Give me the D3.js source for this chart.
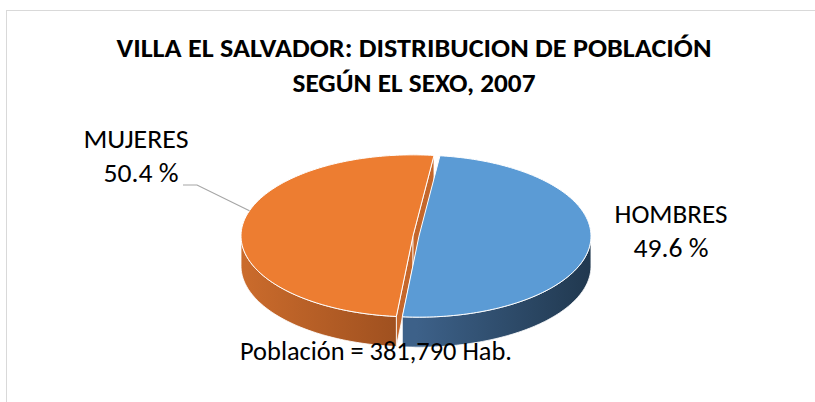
<!DOCTYPE html>
<html><head>
<meta charset="utf-8">
<title>Villa El Salvador - población por sexo</title>
<script src="https://cdnjs.cloudflare.com/ajax/libs/d3/7.8.5/d3.min.js"></script>
<style>
  body { margin: 0; background: #fff; }
  svg { display: block; font-family: Carlito, Calibri, Lato, sans-serif; }
</style>
</head>
<body>
<svg id="chart" width="815" height="402"></svg>

<script>

// data
let categories = ["HOMBRES", "MUJERES"];
let percents = [49.6, 50.4];
let titleLines = ["VILLA EL SALVADOR: DISTRIBUCION DE POBLACIÓN", "SEGÚN EL SEXO, 2007"];
let footnote = "Población = 381,790 Hab.";

let topColors = ["#5B9BD5", "#ED7D31"];

let svg = d3.select("#chart");

// frame (only top and left edges show in the crop)
svg.append("rect")
  .attr("x", 6.5).attr("y", 10.5)
  .attr("width", 830).attr("height", 420)
  .style("fill", "none")
  .style("stroke", "#D9D9D9");

// title, widths fitted to the picture
let titleWidths = [595, 243];
svg.selectAll(".title")
  .data(titleLines)
  .enter().append("text")
  .attr("class", "title")
  .attr("x", 414)
  .attr("y", (d, i) => 57 + i * 35)
  .attr("text-anchor", "middle")
  .attr("textLength", (d, i) => titleWidths[i])
  .attr("lengthAdjust", "spacingAndGlyphs")
  .style("font-weight", "bold")
  .style("font-size", "27px")
  .style("fill", "#000")
  .text(d => d);

// 3d pie geometry
let cx = 416, cy = 236, rx = 172, ry = 81, depth = 30, explode = 3;
let startDeg = 7;

let pie = d3.pie().sort(null)
  .startAngle(startDeg * Math.PI / 180)
  .endAngle(startDeg * Math.PI / 180 + 2 * Math.PI);
let arcs = pie(percents);

// offset of each slice along its middle angle
arcs.forEach(a => {
  let m = (a.startAngle + a.endAngle) / 2;
  a.dx = explode * Math.sin(m);
  a.dy = explode * Math.cos(m) * -1 * ry / rx;
});

function pt(a, ang, dz) {
  return [cx + a.dx + rx * Math.sin(ang), cy + a.dy - ry * Math.cos(ang) + (dz || 0)];
}

function rim(a, a0, a1, dz) {
  let n = Math.max(2, Math.ceil(Math.abs(a1 - a0) / 0.02));
  let s = d3.scaleLinear().domain([0, n]).range([a0, a1]);
  return d3.range(n + 1).map(i => pt(a, s(i), dz));
}

let line = d3.line();

let defs = svg.append("defs");
function grad(id, x1, x2, c1, c2) {
  let g = defs.append("linearGradient").attr("id", id)
    .attr("gradientUnits", "userSpaceOnUse")
    .attr("x1", x1).attr("x2", x2).attr("y1", 0).attr("y2", 0);
  g.append("stop").attr("offset", 0).attr("stop-color", c1);
  g.append("stop").attr("offset", 1).attr("stop-color", c2);
}
grad("sideBlue", cx, cx + rx, "#3D6189", "#213950");
grad("sideOrange", cx - rx, cx, "#CA6B2C", "#9A4D1E");
let sideFill = ["url(#sideBlue)", "url(#sideOrange)"];

let pieG = svg.append("g");

// cut faces of the orange slice (the ones turned toward the viewer)
let mu = arcs[1];
[mu.startAngle, mu.endAngle].forEach(ang => {
  let c = [cx + mu.dx, cy + mu.dy];
  let p = pt(mu, ang);
  let poly = [c, p, [p[0], p[1] + depth], [c[0], c[1] + depth]];
  pieG.append("path")
    .attr("d", line(poly) + "Z")
    .style("fill", "#C5672B")
    .style("stroke", "#fff")
    .style("stroke-width", 0.8);
});

// outer walls: only the front half (angles between 90 and 270 deg) is seen
arcs.slice().reverse().forEach(a => {
  let i = arcs.indexOf(a);
  let lo = Math.PI / 2, hi = 3 * Math.PI / 2;
  let a0 = Math.max(a.startAngle, lo), a1 = Math.min(a.endAngle, hi);
  if (a1 <= a0) return;
  let pts = rim(a, a0, a1).concat(rim(a, a1, a0, depth));
  pieG.append("path")
    .attr("d", line(pts) + "Z")
    .style("fill", sideFill[i])
    .style("stroke", "#fff")
    .style("stroke-width", 0.8);
});

// top faces
arcs.forEach((a, i) => {
  let pts = [[cx + a.dx, cy + a.dy]].concat(rim(a, a.startAngle, a.endAngle));
  pieG.append("path")
    .attr("d", line(pts) + "Z")
    .style("fill", topColors[i])
    .style("stroke", "#fff")
    .style("stroke-width", 1);
});

// labels
let labelPos = [[671, 223], [136, 148]];
let nameWidths = [113, 105];
let pctWidths = [75, 75];
arcs.forEach((a, i) => {
  let t = svg.append("text")
    .attr("text-anchor", "middle")
    .style("font-size", "27px")
    .style("fill", "#000");
  t.append("tspan").attr("x", labelPos[i][0]).attr("y", labelPos[i][1])
    .attr("textLength", nameWidths[i]).attr("lengthAdjust", "spacingAndGlyphs")
    .text(categories[i]);
  t.append("tspan").attr("x", labelPos[i][0] + (i === 1 ? 5 : 0)).attr("y", labelPos[i][1] + 34)
    .attr("textLength", pctWidths[i]).attr("lengthAdjust", "spacingAndGlyphs")
    .text(d3.format(".1f")(percents[i]) + " %");
});

// leader line for MUJERES
let tip = pt(mu, 288 * Math.PI / 180);
svg.append("path")
  .attr("d", line([[183, 185], [197, 185], tip]))
  .style("fill", "none")
  .style("stroke", "#A6A6A6")
  .style("stroke-width", 1.2);

// footnote
svg.append("text")
  .attr("x", 240).attr("y", 360)
  .attr("textLength", 272).attr("lengthAdjust", "spacingAndGlyphs")
  .style("font-size", "27px")
  .style("fill", "#000")
  .text(footnote);

</script>
</body>
</html>
